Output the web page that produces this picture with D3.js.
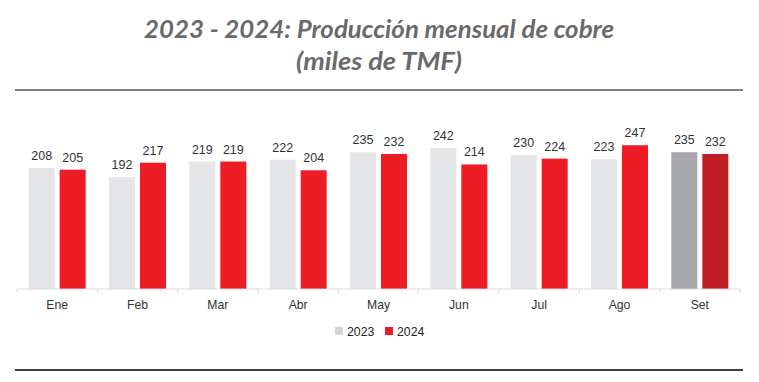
<!DOCTYPE html>
<html>
<head>
<meta charset="utf-8">
<script src="https://cdn.jsdelivr.net/npm/d3@7"></script>
<style>
  html, body { margin: 0; padding: 0; background: #ffffff; }
  svg { display: block; }
</style>
</head>
<body>
<div id="chart"></div>
<script>
const months = ["Ene", "Feb", "Mar", "Abr", "May", "Jun", "Jul", "Ago", "Set"];
const seriesNames = ["2023", "2024"];
const values2023 = [208, 192, 219, 222, 235, 242, 230, 223, 235];
const values2024 = [205, 217, 219, 204, 232, 214, 224, 247, 232];
const titleLines = ["2023 - 2024: Producción mensual de cobre", "(miles de TMF)"];

const W = 759, H = 382;
const colors = { "2023": "#e4e5e7", "2024": "#ee1c25" };
const lastColors = { "2023": "#a7a8ab", "2024": "#be1e24" };
const legendColors = { "2023": "#d4d4d4", "2024": "#ee1c25" };

const svg = d3.select("#chart").append("svg").attr("width", W).attr("height", H);

// Title
const titleFont = "Lato, 'Open Sans', sans-serif";
const titleSpecs = [
  { y: 38, width: 470 },
  { y: 70, width: 166 }
];
titleLines.forEach((t, i) => {
  const txt = svg.append("text")
    .attr("x", W / 2 - 0.5)
    .attr("y", titleSpecs[i].y)
    .attr("text-anchor", "middle")
    .attr("font-family", titleFont)
    .attr("font-style", "italic")
    .attr("font-weight", 700)
    .attr("font-size", 24)
    .attr("fill", "#6a6a6c")
    .text(t);
  const len = txt.node().getComputedTextLength();
  if (Math.abs(len - titleSpecs[i].width) > 2) {
    txt.attr("textLength", titleSpecs[i].width).attr("lengthAdjust", "spacingAndGlyphs");
  }
});

// Rules
svg.append("line").attr("x1", 15).attr("x2", 743).attr("y1", 90).attr("y2", 90)
  .attr("stroke", "#7f7f7f").attr("stroke-width", 2);
svg.append("line").attr("x1", 15).attr("x2", 743).attr("y1", 370).attr("y2", 370)
  .attr("stroke", "#3f3f3f").attr("stroke-width", 2);

// Scales
const baseY = 289;
const x = d3.scaleBand().domain(months).range([17, 740]).paddingInner(0).paddingOuter(0);
const xs = d3.scaleBand().domain(seriesNames).range([0, x.bandwidth()])
  .paddingInner(0.161).paddingOuter(0.376);
const y = d3.scaleLinear().domain([0, 250]).range([baseY, baseY - 145.5]);

const data = months.map((m, i) => ({
  month: m,
  idx: i,
  vals: [
    { series: "2023", value: values2023[i] },
    { series: "2024", value: values2024[i] }
  ]
}));

const groups = svg.append("g").selectAll("g").data(data).join("g")
  .attr("transform", d => `translate(${x(d.month)},0)`);

groups.selectAll("rect").data(d => d.vals.map(v => ({ ...v, last: d.idx === months.length - 1 })))
  .join("rect")
  .attr("x", d => xs(d.series))
  .attr("y", d => y(d.value))
  .attr("width", xs.bandwidth())
  .attr("height", d => baseY - y(d.value))
  .attr("fill", d => d.last ? lastColors[d.series] : colors[d.series]);

groups.selectAll("text").data(d => d.vals).join("text")
  .attr("x", d => xs(d.series) + xs.bandwidth() / 2)
  .attr("y", d => y(d.value) - 8)
  .attr("text-anchor", "middle")
  .attr("font-family", "'Liberation Sans', Arial, sans-serif")
  .attr("font-size", 12.5)
  .attr("fill", "#333333")
  .text(d => d.value);

// Axis
const axis = d3.axisBottom(x).tickSize(0).tickPadding(0);
const ax = svg.append("g").attr("transform", `translate(0,${baseY})`).call(axis);
ax.select(".domain").remove();
ax.selectAll(".tick line").remove();
ax.selectAll(".tick text")
  .attr("y", 20)
  .attr("dy", null)
  .attr("font-family", "'Liberation Sans', Arial, sans-serif")
  .attr("font-size", 12.2)
  .attr("fill", "#333333");
ax.append("line").attr("x1", 17).attr("x2", 740).attr("y1", 0).attr("y2", 0)
  .attr("stroke", "#d9d9d9").attr("stroke-opacity", 0.6).attr("stroke-width", 1.5);
const bounds = months.map(m => x(m)).concat([x(months[months.length - 1]) + x.bandwidth()]);
ax.selectAll(".bound").data(bounds).join("line").attr("class", "bound")
  .attr("x1", d => d).attr("x2", d => d).attr("y1", 0).attr("y2", 4)
  .attr("stroke", "#d9d9d9").attr("stroke-width", 1);

// Legend
const legend = svg.append("g").attr("transform", "translate(335,327)");
const legendItems = [{ name: "2023", dx: 0 }, { name: "2024", dx: 50 }];
legendItems.forEach(it => {
  legend.append("rect").attr("x", it.dx).attr("y", 0).attr("width", 8).attr("height", 8)
    .attr("fill", legendColors[it.name]);
  legend.append("text").attr("x", it.dx + 12).attr("y", 8.5)
    .attr("font-family", "'Liberation Sans', Arial, sans-serif")
    .attr("font-size", 12.3)
    .attr("fill", "#222222")
    .text(it.name);
});
</script>
</body>
</html>
